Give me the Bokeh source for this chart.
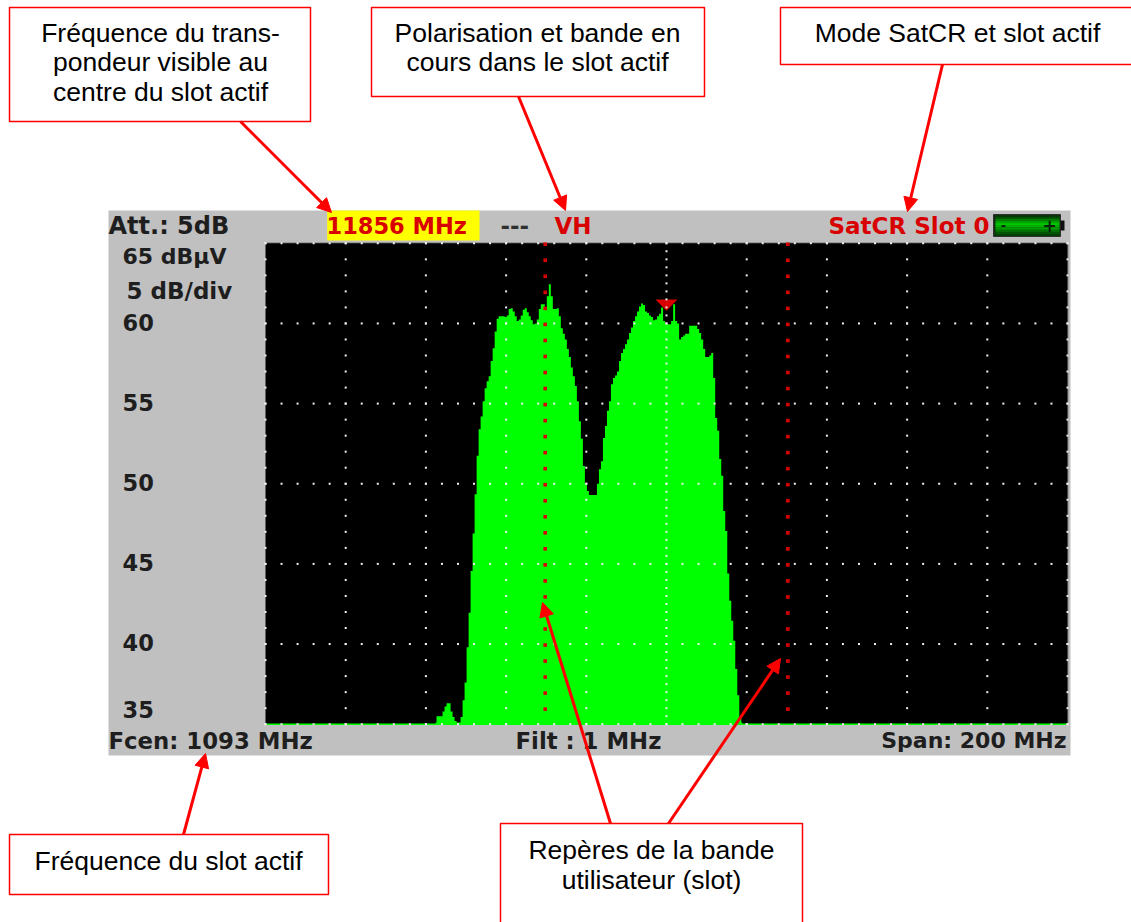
from bokeh.plotting import figure
from bokeh.embed import file_html
from bokeh.resources import INLINE
from bokeh.core.properties import value
from bokeh.models import Range1d, Arrow, NormalHead

# ---------- data ----------
F_CENTER = 1093.0          # MHz
SPAN = 200.0               # MHz
DB_TOP = 65.0
DB_BOTTOM = 35.0
DB_TICKS = [60, 55, 50, 45, 40]
SLOT_MARKERS = [1062.75, 1123.25]
MARKER_F = 1093.0
MARKER_DB = 61.5
FREQ_START = 1035.4
FREQ_STEP = 0.5
LEVELS = [
    35.1, 35.5, 35.5, 35.5, 35.8, 36.1, 36.3, 36.3, 35.8, 35.45,
    35.2, 35.1, 35.1, 35.45, 36.5, 37.6, 39.8, 41.95, 44.55, 46.9,
    49.35, 51.75, 53.4, 54.2, 55.15, 55.95, 56.4, 56.7, 57.65, 58.45,
    59.5, 60.3, 60.45, 60.45, 60.45, 60.4, 60.5, 60.9, 60.95, 60.75,
    60.45, 60.15, 60.25, 60.5, 60.85, 60.95, 60.7, 60.45, 60.2, 59.95,
    60.0, 60.25, 60.9, 61.2, 61.2, 60.95, 61.7, 62.45, 61.7, 60.9,
    60.9, 60.95, 60.45, 59.7, 59.35, 59.0, 58.4, 57.9, 57.25, 56.7,
    56.1, 55.15, 53.9, 52.8, 51.1, 50.0, 49.55, 49.3, 49.3, 49.3,
    49.3, 50.0, 50.9, 51.4, 52.85, 53.6, 54.55, 55.15, 56.2, 56.6,
    56.75, 57.0, 57.65, 58.15, 58.4, 58.7, 59.0, 59.4, 59.75, 60.15,
    60.45, 60.75, 61.05, 61.25, 61.15, 60.75, 60.65, 60.5, 60.4, 60.2,
    60.25, 60.45, 60.6, 61.0, 60.15, 60.0, 59.95, 59.95, 60.15, 61.2,
    60.15, 60.0, 59.0, 59.15, 59.25, 59.35, 59.35, 59.85, 59.85, 59.85,
    59.85, 59.65, 59.4, 59.0, 58.4, 57.9, 57.9, 58.0, 58.15, 56.6,
    54.1, 53.3, 51.55, 50.5, 48.3, 47.05, 44.4, 42.7, 41.45, 40.2,
    38.45, 36.8, 35.45, 35.1,
]
FREQS = [FREQ_START + FREQ_STEP * i for i in range(len(LEVELS))]

# ---------- page geometry ----------
W, H = 1131, 922
ORG = 0
PX_MHZ = 4.01
PX_DB = 16.03
X_C, Y_TOP = 666.0, 242.8
RED = "#ff0000"
DEV_RED = "#d80000"
GREEN = "#00ff00"
BLACK_TXT = "#1e1e1e"
ANN_FONT = value("Liberation Sans")
DEV_FONT = value("DejaVu Sans")

p = figure(
    width=W, height=H, output_backend="svg", toolbar_location=None,
    x_axis_location=None, y_axis_location=None, min_border=0,
    x_range=Range1d(F_CENTER + (ORG - X_C) / PX_MHZ, F_CENTER + (ORG + W - X_C) / PX_MHZ),
    y_range=Range1d(DB_TOP - (ORG + H - Y_TOP) / PX_DB, DB_TOP - (ORG - Y_TOP) / PX_DB),
    outline_line_color=None, background_fill_color="white", border_fill_color="white",
)
p.grid.visible = False
p.extra_x_ranges["px"] = Range1d(ORG, ORG + W)
p.extra_y_ranges["px"] = Range1d(ORG + H, ORG)
PX = dict(x_range_name="px", y_range_name="px")


def box(l, t, r, b, fill, line=None, lw=1.0):
    p.quad(left=[l], right=[r], top=[t], bottom=[b], fill_color=fill,
           line_color=line, line_width=lw, **PX)


def txt(x, y, s, font, size, color, align="left", style="normal"):
    p.text(x=[x], y=[y], text=[s], text_font=font, text_font_size=f"{size}px",
           text_color=color, text_align=align, text_baseline="middle",
           text_font_style=style, **PX)


# instrument panel
box(108, 210, 1070, 755, "#c0c0c0")
box(326.7, 210, 479, 240, "#ffff00")
p.line([993, 1193, 1193], [DB_TOP, DB_TOP, DB_BOTTOM], line_color="#8c8c8c", line_width=2)
p.quad(left=[F_CENTER - SPAN / 2], right=[F_CENTER + SPAN / 2], top=[DB_TOP], bottom=[DB_BOTTOM],
       fill_color="black", line_color=None)

# spectrum
p.varea_step(x=FREQS, y1=[DB_BOTTOM] * len(FREQS), y2=LEVELS, step_mode="center", fill_color=GREEN)
p.line([993, 1193], [DB_BOTTOM, DB_BOTTOM], line_color=GREEN, line_width=1.5)

# marker
p.patch([MARKER_F - 2.75, MARKER_F + 2.75, MARKER_F], [MARKER_DB, MARKER_DB, MARKER_DB - 0.7],
        fill_color="#d80000", line_color=None)

# grid dots
gx, gy = [], []
minor_f = [993 + 4 * i for i in range(51)]
minor_db = list(range(35, 66))
for k in range(0, 11):
    f = 993 + 20 * k
    levels = [35 + 0.5 * i for i in range(61)] if k == 5 else minor_db
    gx += [f] * len(levels)
    gy += levels
for db in [65] + DB_TICKS + [35]:
    gx += minor_f
    gy += [db] * len(minor_f)
p.scatter(gx, gy, marker="square", size=2, fill_color="#f0f0f0", line_color=None)

# slot markers
for f in SLOT_MARKERS:
    lv = [64.94 - i for i in range(30)]
    p.scatter([f] * len(lv), lv, marker="square", size=3.6, fill_color="#d80000", line_color=None)

# instrument texts
txt(108, 225, "Att.: 5dB", DEV_FONT, 24, BLACK_TXT, style="bold")
txt(326, 225, "11856 MHz", DEV_FONT, 22.5, DEV_RED, style="bold")
txt(500, 225, "---", DEV_FONT, 23, "#303030", style="bold")
txt(554, 225, "VH", DEV_FONT, 23, DEV_RED, style="bold")
txt(828, 225, "SatCR Slot 0", DEV_FONT, 23, DEV_RED, style="bold")
txt(122, 256, "65 dBµV", DEV_FONT, 22, BLACK_TXT, style="bold")
txt(126, 290, "5 dB/div", DEV_FONT, 23, BLACK_TXT, style="bold")
for t, y in zip(["60", "55", "50", "45", "40", "35"], [322, 402, 482, 562, 642, 709]):
    txt(122, y, t, DEV_FONT, 22.5, BLACK_TXT, style="bold")
txt(108, 740, "Fcen: 1093 MHz", DEV_FONT, 22.8, BLACK_TXT, style="bold")
txt(515, 740, "Filt : 1 MHz", DEV_FONT, 22.8, BLACK_TXT, style="bold")
txt(1066, 740, "Span: 200 MHz", DEV_FONT, 22, BLACK_TXT, align="right", style="bold")

# battery
box(993, 214, 1060, 236, "#103010", "#303030", 1)
box(1060, 220, 1064, 230, "#101010")
for i, c in enumerate(["#003a00", "#005a00", "#008000", "#00a000", "#00c000", "#00c800",
                       "#00b400", "#00a000", "#008800", "#007000", "#005800", "#004000"]):
    box(995, 215 + 1.7 * i, 1059, 215 + 1.7 * (i + 1), c)
txt(1003, 225, "-", DEV_FONT, 13, "#0a200a", align="center", style="bold")
txt(1049, 225, "+", DEV_FONT, 17, "#0a200a", align="center", style="bold")

# callouts
AS = 26.5
for l, t, r, b in [(9, 7, 310, 121), (371, 7, 704, 96), (780, 7, 1140, 64),
                   (9, 834, 328, 894), (500, 823, 802, 940)]:
    box(l, t, r, b, "white", RED, 1.5)
for x, y, s in [
    (160, 32, "Fréquence du trans-"), (160, 61, "pondeur visible au"), (160, 91, "centre du slot actif"),
    (537, 32, "Polarisation et bande en"), (537, 61, "cours dans le slot actif"),
    (957, 32, "Mode SatCR et slot actif"),
    (168, 860, "Fréquence du slot actif"),
    (651, 849, "Repères de la bande"), (651, 879, "utilisateur (slot)"),
]:
    txt(x, y, s, ANN_FONT, AS, "#000000", align="center")

for xs, ys, xe, ye in [(240, 121, 331, 212), (518, 96, 565, 210), (942, 64, 907, 211),
                       (183, 834, 205, 753), (610, 823, 542, 602), (668, 823, 780, 658)]:
    p.add_layout(Arrow(
        end=NormalHead(size=14, fill_color=RED, line_color=RED, line_width=1),
        x_start=xs, y_start=ys, x_end=xe, y_end=ye,
        line_color=RED, line_width=3, **{"x_range_name": "px", "y_range_name": "px"},
    ))

open("out.html", "w").write(file_html(p, INLINE))
